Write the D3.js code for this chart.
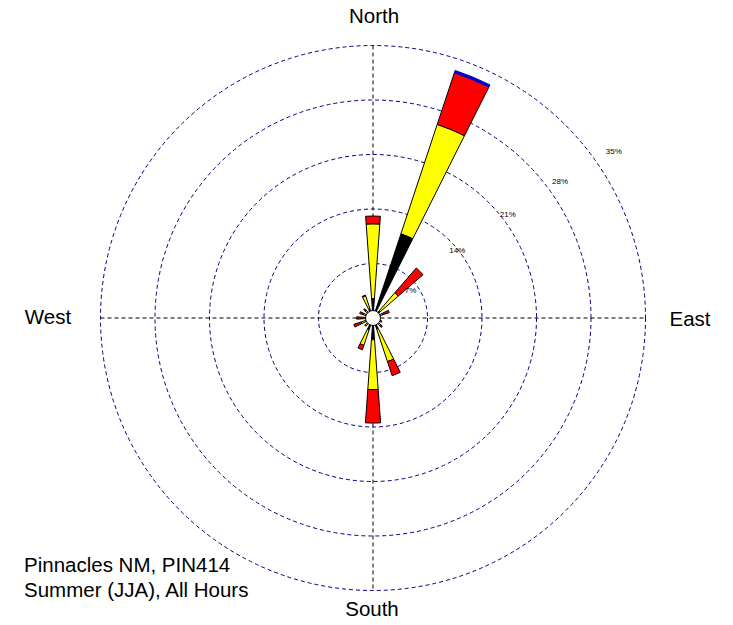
<!DOCTYPE html>
<html>
<head>
<meta charset="utf-8">
<script src="https://cdn.jsdelivr.net/npm/d3@7"></script>
<style>
  html, body { margin: 0; padding: 0; background: #ffffff; }
  svg { display: block; }
  text { font-family: "Liberation Sans", Arial, sans-serif; fill: #000; }
</style>
</head>
<body>
<svg id="chart" width="733" height="625"></svg>
<script>
// ---- Data (percent frequency of wind by direction and speed class) ----
const directions = ["N","NNE","NE","ENE","E","ESE","SE","SSE","S","SSW","SW","WSW","W","WNW","NW","NNW"];
const speedClasses = ["class1","class2","class3","class4"];
const class1Values = [2.5, 11.4, 1.2, 0.8, 0.6, 0.6, 0.8, 1.5, 2.8, 1.6, 0.9, 1.0, 0.9, 0.8, 0.8, 1.2];
const class2Values = [9.6, 14.8, 3.1, 0.5, 0.3, 0.4, 0.6, 4.4, 6.4, 2.1, 0.4, 0.6, 0.5, 0.5, 0.6, 1.8];
const class3Values = [1.0,  7.0, 4.2, 0.9, 0.0, 0.2, 0.2, 1.9, 4.3, 0.6, 0.1, 1.0, 0.7, 0.5, 0.2, 0.1];
const class4Values = [0.0,  0.3, 0.0, 0.0, 0.0, 0.0, 0.0, 0.0, 0.0, 0.0, 0.0, 0.0, 0.0, 0.0, 0.0, 0.0];
const classColors = ["#000000", "#ffff00", "#ff0000", "#0000cc"];
const ringValues = [7, 14, 21, 28, 35];
const ringLabels = ["7%", "14%", "21%", "28%", "35%"];
const compassLabels = ["North", "East", "South", "West"];
const titleLines = ["Pinnacles NM, PIN414", "Summer (JJA), All Hours"];

// ---- Layout ----
const cx = 373, cy = 318;
const svg = d3.select("#chart");
const g = svg.append("g").attr("transform", `translate(${cx},${cy})`);

const r = d3.scaleLinear().domain([0, 35]).range([0, 272.5]);
const angle = d3.scalePoint().domain(directions).range([0, 2 * Math.PI * 15 / 16]);
const color = d3.scaleOrdinal().domain(speedClasses).range(classColors);
const halfWidth = 4.15 * Math.PI / 180;

// rings
g.selectAll("circle.ring").data(ringValues).join("circle")
  .attr("class", "ring")
  .attr("r", d => r(d))
  .attr("fill", "none")
  .attr("stroke", "#000080")
  .attr("stroke-width", 1)
  .attr("stroke-dasharray", "4,3");

// axes
const R = r(35);
g.append("line").attr("x1", -R).attr("x2", R).attr("y1", 0).attr("y2", 0)
  .attr("stroke", "#000").attr("stroke-dasharray", "4,3");
g.append("line").attr("x1", 0).attr("x2", 0).attr("y1", -R).attr("y2", R)
  .attr("stroke", "#000").attr("stroke-dasharray", "4,3");

// petals
const table = directions.map((d, i) => ({
  dir: d,
  class1: class1Values[i], class2: class2Values[i],
  class3: class3Values[i], class4: class4Values[i]
}));
const stacked = d3.stack().keys(speedClasses)(table);
const arc = d3.arc();

stacked.forEach(layer => {
  g.append("g").selectAll("path").data(layer.filter(d => d[1] - d[0] > 0)).join("path")
    .attr("d", d => {
      const a = angle(d.data.dir);
      return arc({
        innerRadius: r(d[0]), outerRadius: r(d[1]),
        startAngle: a - halfWidth, endAngle: a + halfWidth
      });
    })
    .attr("fill", color(layer.key))
    .attr("stroke", layer.key === "class4" ? "#0000cc" : "#000")
    .attr("stroke-width", 1);
});

// central hole
g.append("circle").attr("r", 7.5).attr("fill", "#fff").attr("stroke", "#000").attr("stroke-width", 1);

// ring labels
const labAng = d => (d === 7 ? 53.6 : 48.5 + 0.025 * r(d)) * Math.PI / 180;
const labRad = d => 1.13 * r(d) - 15;
g.selectAll("text.ringlab").data(ringValues).join("text")
  .attr("class", "ringlab")
  .attr("x", d => labRad(d) * Math.sin(labAng(d)))
  .attr("y", d => -labRad(d) * Math.cos(labAng(d)))
  .attr("text-anchor", "middle")
  .attr("dominant-baseline", "central")
  .attr("font-size", "8px")
  .text((d, i) => ringLabels[i]);

// compass labels
svg.append("text").attr("x", 374).attr("y", 23).attr("text-anchor", "middle").attr("font-size", "20.5px").text(compassLabels[0]);
svg.append("text").attr("x", 690).attr("y", 326).attr("text-anchor", "middle").attr("font-size", "20.5px").text(compassLabels[1]);
svg.append("text").attr("x", 372).attr("y", 616).attr("text-anchor", "middle").attr("font-size", "20.5px").text(compassLabels[2]);
svg.append("text").attr("x", 48).attr("y", 324).attr("text-anchor", "middle").attr("font-size", "20.5px").text(compassLabels[3]);

// title block
svg.selectAll("text.title").data(titleLines).join("text")
  .attr("class", "title")
  .attr("x", 24)
  .attr("y", (d, i) => 572 + i * 25)
  .attr("font-size", "20.5px")
  .text(d => d);
</script>
</body>
</html>
